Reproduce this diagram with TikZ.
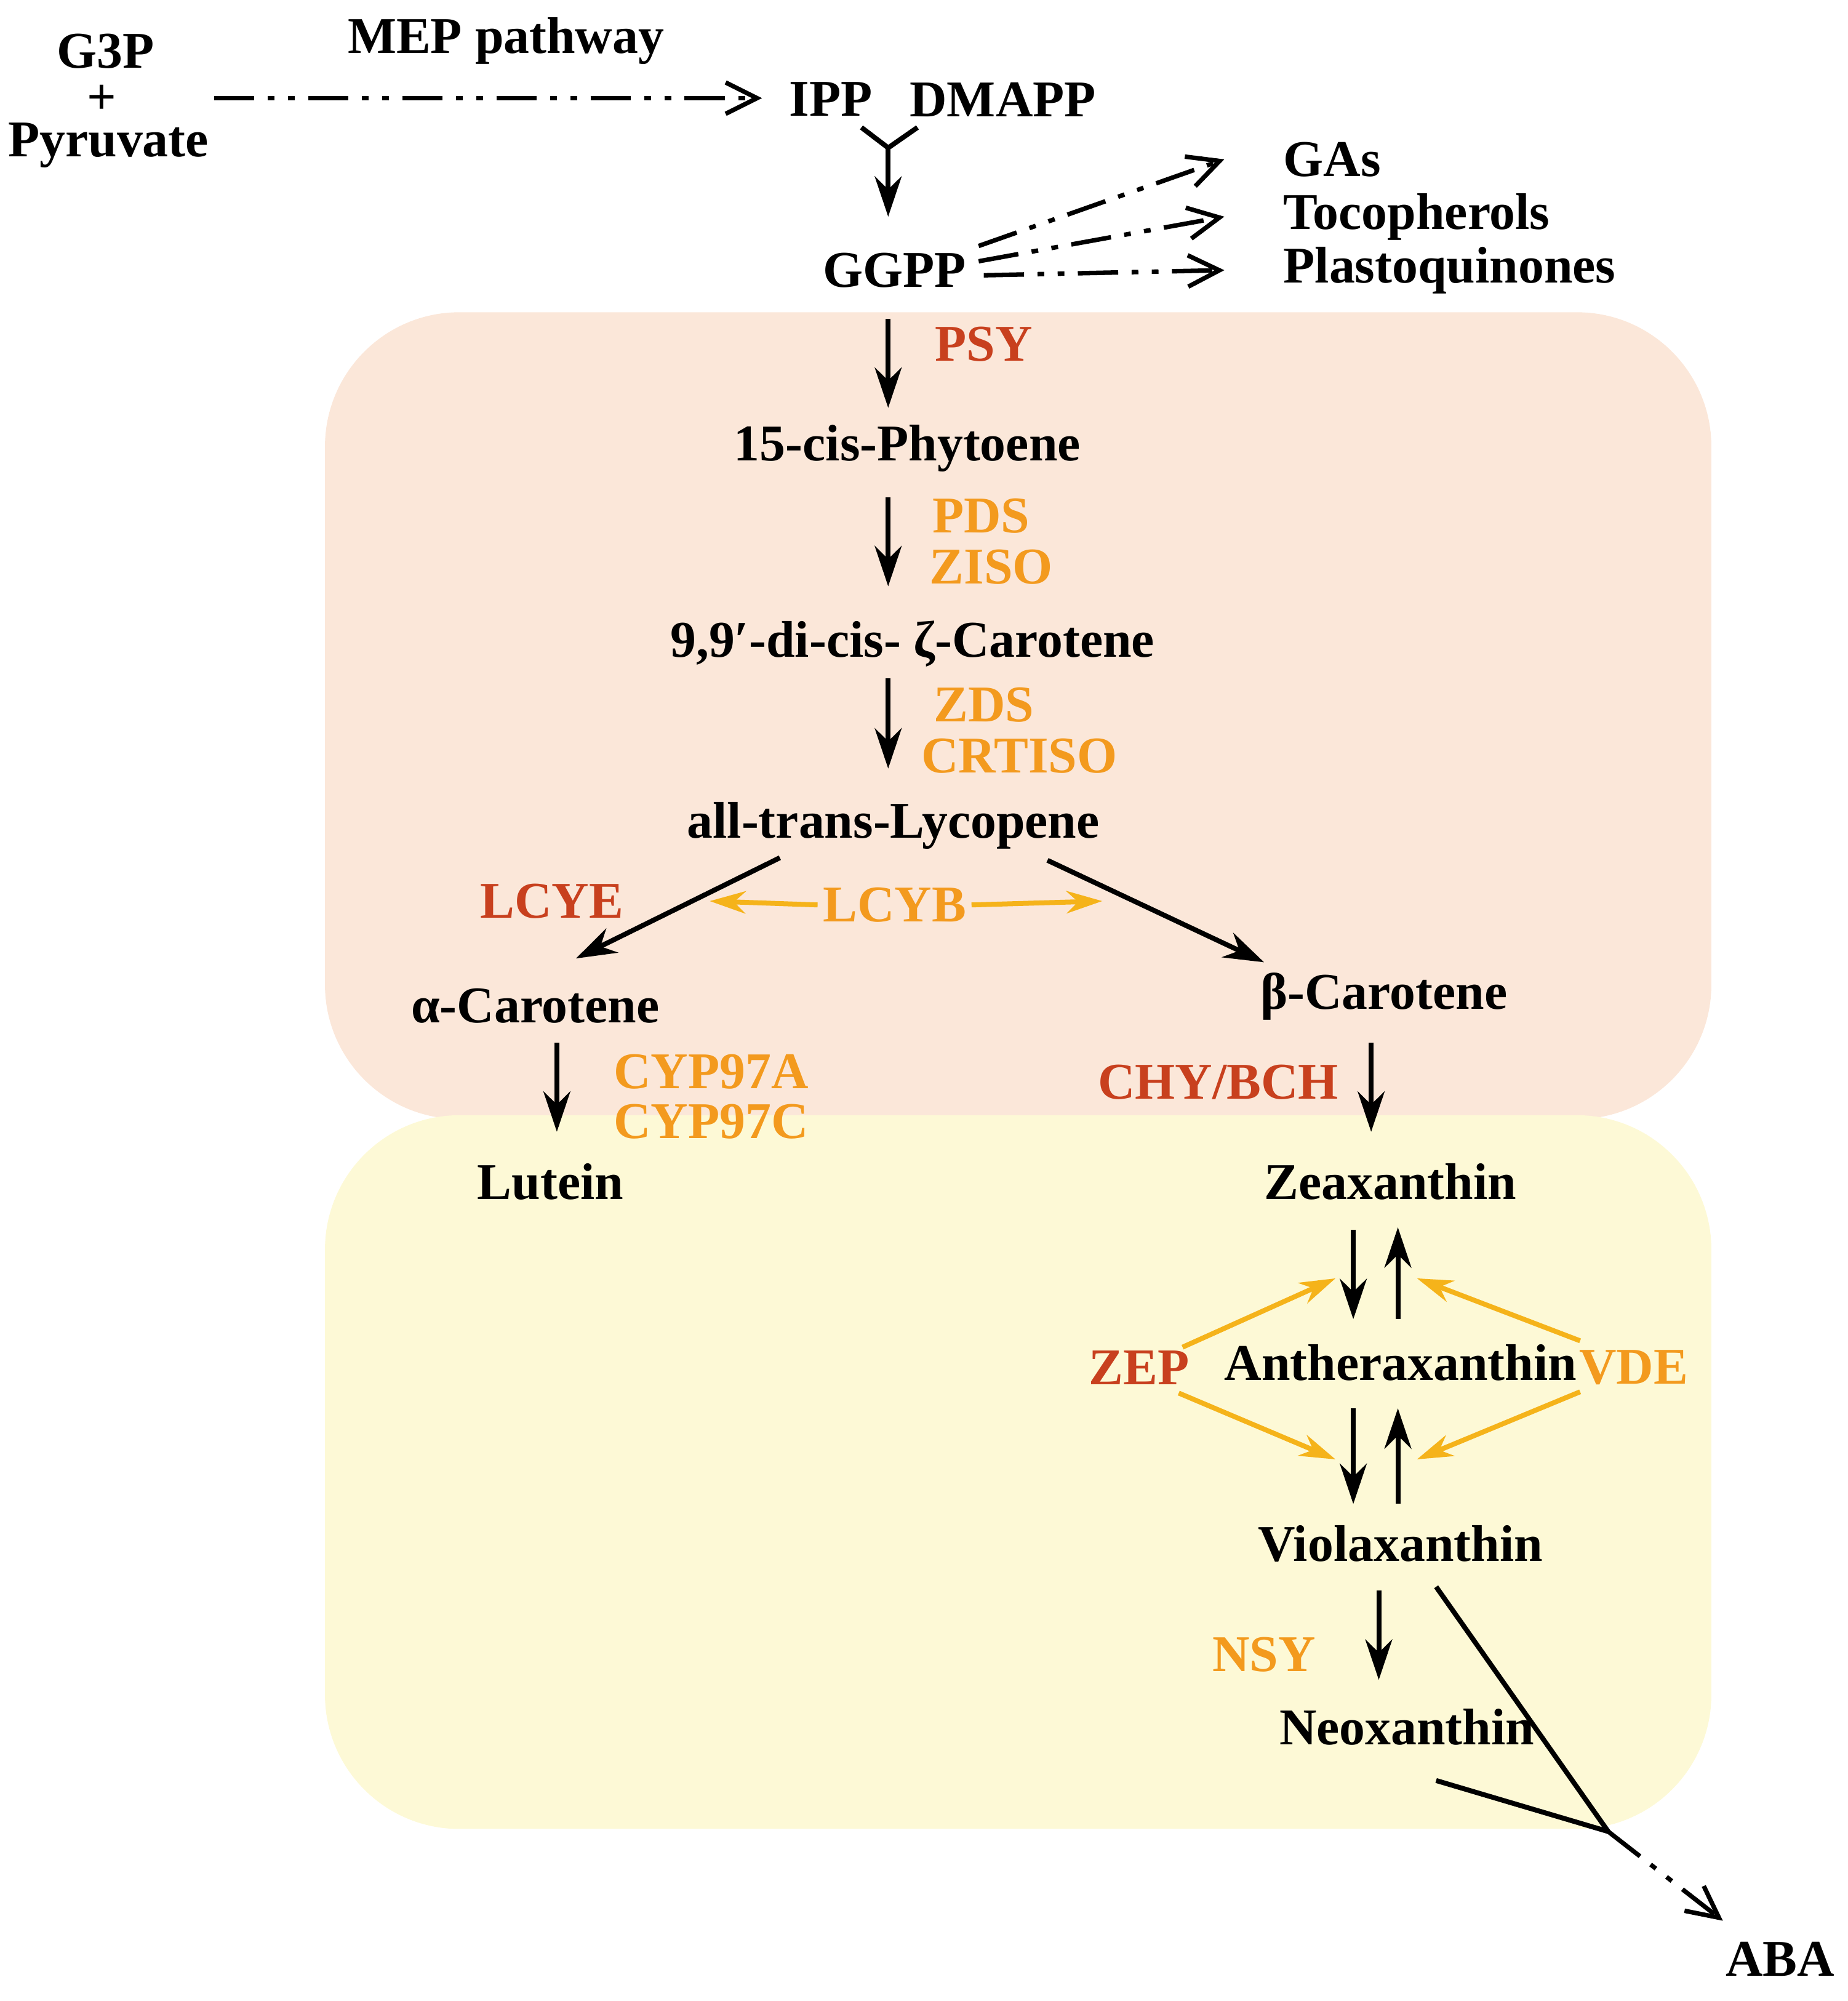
\documentclass[tikz,border=0pt]{standalone}
\usepackage{fontspec}
\setmainfont{Liberation Serif}
\usetikzlibrary{arrows.meta}
\definecolor{redE}{HTML}{C8401E}
\definecolor{orE}{HTML}{F39A1E}
\definecolor{orA}{HTML}{F5B31A}
\definecolor{boxA}{HTML}{FBE7D9}
\definecolor{boxB}{HTML}{FDF9D6}
\begin{document}
\begin{tikzpicture}[x=0.01cm,y=-0.01cm,
  t/.style={font=\fontsize{11.5}{13}\selectfont\bfseries,inner sep=1pt},
  er/.style={t,text=redE},
  eo/.style={t,text=orE},
  ar/.style={-{Stealth[length=9pt,width=6pt]},line width=1.1pt},
  oa/.style={-{Stealth[length=8pt,width=5pt]},line width=1.1pt,draw=orA},
  dd/.style={-{Straight Barb[length=7pt,width=7pt]},line width=1pt,dash pattern=on 9pt off 3pt on 1.5pt off 3pt on 1.5pt off 3pt}]
\useasboundingbox (0,0) rectangle (1450,1570);
\fill[boxA,rounded corners=30pt] (255,245) rectangle (1343,878);
\fill[boxB,rounded corners=30pt] (255,875) rectangle (1343,1435);
\node[t] (g3p) at (83,40) {G3P};
\node[t] (plus) at (80,78) {+};
\node[t] (pyr) at (85,114) {Pyruvate};
\node[t] (mep) at (397,32) {MEP pathway};
\node[t] (ipp) at (652,78) {IPP};
\node[t] (dma) at (787,78) {DMAPP};
\coordinate (m1) at (168,77); \coordinate (m2) at (598,77);
\draw[dd] (m1) -- (m2);
\coordinate (y1) at (676,100); \coordinate (y2) at (720,100); \coordinate (yj) at (697,116); \coordinate (yb) at (697,170);
\draw[line width=1.1pt] (y1) -- (yj) -- (y2);
\draw[ar] (yj) -- (yb);
\node[t] (ggpp) at (702,212) {GGPP};
\node[t,anchor=west] (gas) at (1003,125) {GAs};
\node[t,anchor=west] (toc) at (1003,170) {Tocopherols};
\node[t,anchor=west] (pla) at (1003,212) {Plastoquinones};
\coordinate (g1) at (768,193); \coordinate (g2) at (768,205); \coordinate (g3) at (772,216);
\draw[dd] (g1) -- ([xshift=-12pt]gas.west);
\draw[dd] (g2) -- ([xshift=-12pt]toc.west);
\draw[dd] (g3) -- ([xshift=-12pt]pla.west);
\node[er] (psy) at (772,270) {PSY};
\coordinate (a1) at (697,250); \coordinate (a2) at (697,320);
\draw[ar] (a1) -- (a2);
\node[t] (phy) at (712,352) {15-cis-Phytoene};
\node[eo] (pds) at (770,405) {PDS};
\node[eo] (ziso) at (778,445) {ZISO};
\coordinate (b1) at (697,390); \coordinate (b2) at (697,460);
\draw[ar] (b1) -- (b2);
\node[t] (zc) at (716,505) {9,9′-di-cis- ζ-Carotene};
\node[eo] (zds) at (772,553) {ZDS};
\node[eo] (crt) at (800,593) {CRTISO};
\coordinate (c1) at (697,532); \coordinate (c2) at (697,603);
\draw[ar] (c1) -- (c2);
\node[t] (lyc) at (701,648) {all-trans-Lycopene};
\coordinate (l1) at (612,673); \coordinate (l2) at (452,752);
\coordinate (l3) at (822,675); \coordinate (l4) at (992,755);
\draw[ar] (l1) -- (l2); \draw[ar] (l3) -- (l4);
\node[er] (lcye) at (433,707) {LCYE};
\node[eo] (lcyb) at (702,710) {LCYB};
\coordinate (o1) at (557,707); \coordinate (o2) at (865,707);
\draw[oa] (lcyb.west) -- (o1);
\draw[oa] (lcyb.east) -- (o2);
\node[t] (ac) at (420,789) {α-Carotene};
\node[t] (bc) at (1086,782) {β-Carotene};
\coordinate (d1) at (437,818); \coordinate (d2) at (437,888);
\draw[ar] (d1) -- (d2);
\node[eo] (c7a) at (558,841) {CYP97A};
\node[eo] (c7c) at (558,880) {CYP97C};
\node[t] (lut) at (432,927) {Lutein};
\node[er] (chy) at (956,849) {CHY/BCH};
\coordinate (e1) at (1076,818); \coordinate (e2) at (1076,888);
\draw[ar] (e1) -- (e2);
\node[t] (zea) at (1091,927) {Zeaxanthin};
\coordinate (f1) at (1062,965); \coordinate (f2) at (1062,1035);
\coordinate (f3) at (1097,1035); \coordinate (f4) at (1097,963);
\draw[ar] (f1) -- (f2); \draw[ar] (f3) -- (f4);
\node[t] (ant) at (1099,1069) {Antheraxanthin};
\node[er] (zep) at (894,1073) {ZEP};
\node[eo] (vde) at (1282,1073) {VDE};
\coordinate (p1) at (928,1057); \coordinate (p2) at (1048,1003);
\coordinate (p3) at (925,1093); \coordinate (p4) at (1048,1145);
\coordinate (p5) at (1240,1052); \coordinate (p6) at (1112,1003);
\coordinate (p7) at (1240,1092); \coordinate (p8) at (1112,1145);
\draw[oa] (p1) -- (p2); \draw[oa] (p3) -- (p4);
\draw[oa] (p5) -- (p6); \draw[oa] (p7) -- (p8);
\coordinate (h1) at (1062,1105); \coordinate (h2) at (1062,1180);
\coordinate (h3) at (1097,1180); \coordinate (h4) at (1097,1105);
\draw[ar] (h1) -- (h2); \draw[ar] (h3) -- (h4);
\node[t] (vio) at (1099,1211) {Violaxanthin};
\coordinate (k1) at (1082,1248); \coordinate (k2) at (1082,1318);
\draw[ar] (k1) -- (k2);
\node[eo] (nsy) at (992,1298) {NSY};
\node[t] (neo) at (1104,1355) {Neoxanthin};
\coordinate (n1) at (1127,1245); \coordinate (n2) at (1127,1397);
\coordinate (nj) at (1262,1437); \coordinate (nA) at (1352,1507);
\draw[line width=1.1pt] (n1) -- (nj) -- (n2);
\draw[dd] (nj) -- (nA);
\node[t] (aba) at (1397,1537) {ABA};
\end{tikzpicture}
\end{document}
